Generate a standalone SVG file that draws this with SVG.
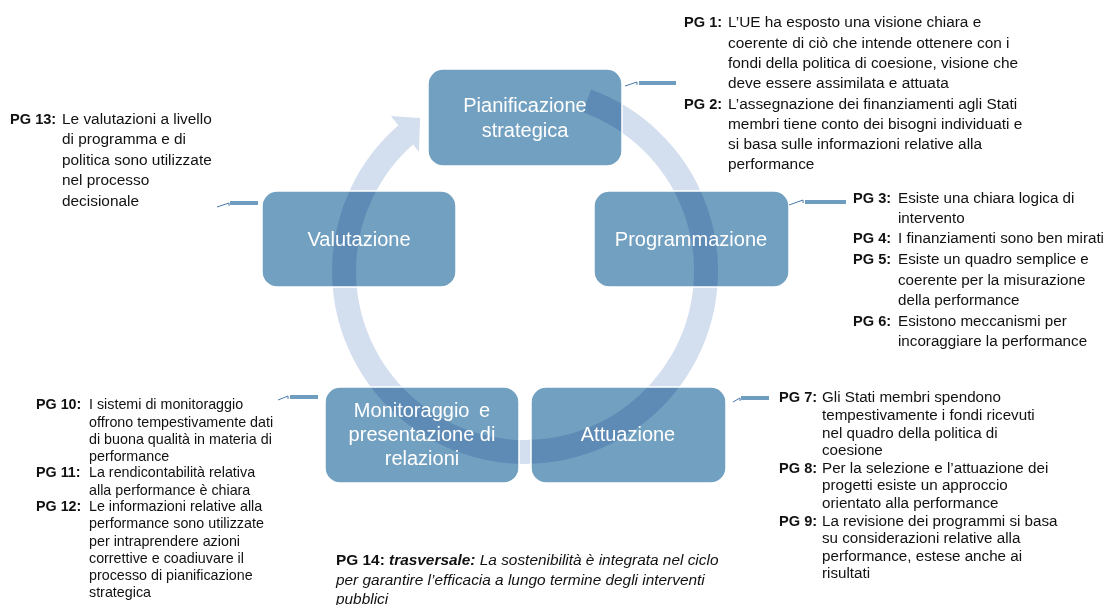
<svg xmlns="http://www.w3.org/2000/svg" width="1112" height="605" viewBox="0 0 1112 605">
<style>
.box{fill:#72a0c1;mix-blend-mode:multiply}
.edge{fill:none;stroke:#ffffff;stroke-width:1.5}
.lbl{font-family:"Liberation Sans",Arial,sans-serif;font-size:20px;fill:#ffffff;text-anchor:middle}
.t{font-family:"Liberation Sans",Arial,sans-serif;font-size:15.4px;fill:#111111}
.tr{font-family:"Liberation Sans",Arial,sans-serif;font-size:15.2px;fill:#111111}
.ts{font-family:"Liberation Sans",Arial,sans-serif;font-size:14.3px;fill:#111111}
.b{font-weight:bold}
.k{font-size:14.6px;font-weight:bold}
.i{font-style:italic}
.bar{fill:#6f9dc0}
.tick{fill:none;stroke:#4a7aab;stroke-width:1}
.ring{fill:none;stroke:#d3deef;stroke-width:24}
</style>
<rect width="1112" height="605" fill="#ffffff"/>
<g id="cycle-arrow">
<path class="ring" d="M586.9,100.9 A181,181 0 1 1 406.3,134.4"/>
<polygon points="391,116 420,118 419,152" fill="#d3deef"/>
</g>
<g id="node-pianificazione">
<rect class="box" x="428" y="69" width="194" height="97" rx="15"/>
<rect class="edge" x="428" y="69" width="194" height="97" rx="15"/>
<text class="lbl" x="525" y="112">Pianificazione</text>
<text class="lbl" x="525" y="137">strategica</text>
</g>
<g id="node-programmazione">
<rect class="box" x="594" y="191" width="195" height="96" rx="15"/>
<rect class="edge" x="594" y="191" width="195" height="96" rx="15"/>
<text class="lbl" x="691" y="246">Programmazione</text>
</g>
<g id="node-attuazione">
<rect class="box" x="531" y="387" width="195" height="96" rx="15"/>
<rect class="edge" x="531" y="387" width="195" height="96" rx="15"/>
<text class="lbl" x="628" y="441">Attuazione</text>
</g>
<g id="node-monitoraggio">
<rect class="box" x="325" y="387" width="194" height="96" rx="15"/>
<rect class="edge" x="325" y="387" width="194" height="96" rx="15"/>
<text class="lbl" x="422" y="417" word-spacing="4">Monitoraggio e</text>
<text class="lbl" x="422" y="441">presentazione di</text>
<text class="lbl" x="422" y="465">relazioni</text>
</g>
<g id="node-valutazione">
<rect class="box" x="262" y="191" width="194" height="96" rx="15"/>
<rect class="edge" x="262" y="191" width="194" height="96" rx="15"/>
<text class="lbl" x="359" y="246">Valutazione</text>
</g>
<g id="connectors">
<polyline class="tick" points="625,86 637,82 637,85"/>
<rect class="bar" x="639" y="81" width="37" height="4"/>
<polyline class="tick" points="789,205 803,200 803,203"/>
<rect class="bar" x="805" y="200" width="41" height="4"/>
<polyline class="tick" points="733,402 740,398 740,401"/>
<rect class="bar" x="741" y="396" width="28" height="4"/>
<polyline class="tick" points="278,400 288,396 288,399"/>
<rect class="bar" x="290" y="395" width="28" height="4"/>
<polyline class="tick" points="217,207 229,203 229,206"/>
<rect class="bar" x="230" y="201" width="28" height="4"/>
</g>
<g id="note-pg1-2">
<text class="t k" x="684" y="27">PG 1:</text>
<text class="t" x="728" y="27">L’UE ha esposto una visione chiara e</text>
<text class="t" x="728" y="48">coerente di ciò che intende ottenere con i</text>
<text class="t" x="728" y="68">fondi della politica di coesione, visione che</text>
<text class="t" x="728" y="88">deve essere assimilata e attuata</text>
<text class="t k" x="684" y="109">PG 2:</text>
<text class="t" x="728" y="109">L’assegnazione dei finanziamenti agli Stati</text>
<text class="t" x="728" y="129">membri tiene conto dei bisogni individuati e</text>
<text class="t" x="728" y="149">si basa sulle informazioni relative alla</text>
<text class="t" x="728" y="169">performance</text>
</g>
<g id="note-pg3-6">
<text class="tr k" x="853" y="203">PG 3:</text>
<text class="tr" x="898" y="203">Esiste una chiara logica di</text>
<text class="tr" x="898" y="223">intervento</text>
<text class="tr k" x="853" y="243">PG 4:</text>
<text class="tr" x="898" y="243">I finanziamenti sono ben mirati</text>
<text class="tr k" x="853" y="264">PG 5:</text>
<text class="tr" x="898" y="264">Esiste un quadro semplice e</text>
<text class="tr" x="898" y="285">coerente per la misurazione</text>
<text class="tr" x="898" y="305">della performance</text>
<text class="tr k" x="853" y="326">PG 6:</text>
<text class="tr" x="898" y="326">Esistono meccanismi per</text>
<text class="tr" x="898" y="346">incoraggiare la performance</text>
</g>
<g id="note-pg13">
<text class="t k" x="10" y="124">PG 13:</text>
<text class="t" x="62" y="124">Le valutazioni a livello</text>
<text class="t" x="62" y="144">di programma e di</text>
<text class="t" x="62" y="165">politica sono utilizzate</text>
<text class="t" x="62" y="185">nel processo</text>
<text class="t" x="62" y="206">decisionale</text>
</g>
<g id="note-pg10-12">
<text class="ts b" x="36" y="409">PG 10:</text>
<text class="ts" x="89" y="409">I sistemi di monitoraggio</text>
<text class="ts" x="89" y="427">offrono tempestivamente dati</text>
<text class="ts" x="89" y="444">di buona qualità in materia di</text>
<text class="ts" x="89" y="461">performance</text>
<text class="ts b" x="36" y="477">PG 11:</text>
<text class="ts" x="89" y="477">La rendicontabilità relativa</text>
<text class="ts" x="89" y="495">alla performance è chiara</text>
<text class="ts b" x="36" y="511">PG 12:</text>
<text class="ts" x="89" y="511">Le informazioni relative alla</text>
<text class="ts" x="89" y="528">performance sono utilizzate</text>
<text class="ts" x="89" y="546">per intraprendere azioni</text>
<text class="ts" x="89" y="563">correttive e coadiuvare il</text>
<text class="ts" x="89" y="580">processo di pianificazione</text>
<text class="ts" x="89" y="597">strategica</text>
</g>
<g id="note-pg7-9">
<text class="tr k" x="779" y="402">PG 7:</text>
<text class="tr" x="822" y="402">Gli Stati membri spendono</text>
<text class="tr" x="822" y="420">tempestivamente i fondi ricevuti</text>
<text class="tr" x="822" y="438">nel quadro della politica di</text>
<text class="tr" x="822" y="455">coesione</text>
<text class="tr k" x="779" y="473">PG 8:</text>
<text class="tr" x="822" y="473">Per la selezione e l’attuazione dei</text>
<text class="tr" x="822" y="490">progetti esiste un approccio</text>
<text class="tr" x="822" y="508">orientato alla performance</text>
<text class="tr k" x="779" y="526">PG 9:</text>
<text class="tr" x="822" y="526">La revisione dei programmi si basa</text>
<text class="tr" x="822" y="543">su considerazioni relative alla</text>
<text class="tr" x="822" y="561">performance, estese anche ai</text>
<text class="tr" x="822" y="578">risultati</text>
</g>
<g id="note-pg14">
<text class="t" x="336" y="565"><tspan class="b">PG 14: </tspan><tspan class="b i">trasversale:</tspan><tspan class="i"> La sostenibilità è integrata nel ciclo</tspan></text>
<text class="t i" x="336" y="585">per garantire l’efficacia a lungo termine degli interventi</text>
<text class="t i" x="336" y="604">pubblici</text>
</g>
</svg>
